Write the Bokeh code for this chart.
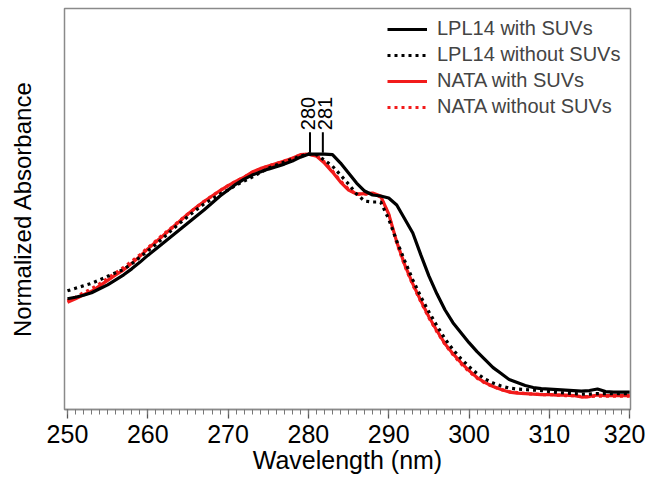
import math
from bokeh.plotting import figure
from bokeh.models import Range1d, FixedTicker, Legend, LegendItem, ColumnDataSource
from bokeh.core.properties import value
from bokeh.embed import file_html
from bokeh.resources import INLINE

wavelength = list(range(250, 321))

lpl14_with = [0.420, 0.426, 0.434, 0.444, 0.460, 0.476, 0.496, 0.516, 0.540, 0.566,
              0.594, 0.620, 0.646, 0.672, 0.698, 0.724, 0.750, 0.776, 0.804, 0.832,
              0.856, 0.880, 0.900, 0.916, 0.928, 0.940, 0.950, 0.960, 0.972, 0.988,
              1.000, 1.000, 1.000, 0.998, 0.964, 0.924, 0.884, 0.852, 0.836, 0.832,
              0.824, 0.796, 0.740, 0.684, 0.596, 0.512, 0.440, 0.376, 0.324, 0.284,
              0.244, 0.208, 0.176, 0.144, 0.120, 0.096, 0.084, 0.072, 0.064, 0.060,
              0.058, 0.056, 0.054, 0.052, 0.050, 0.052, 0.058, 0.048, 0.046, 0.046,
              0.046]

lpl14_without = [0.452, 0.462, 0.472, 0.482, 0.496, 0.510, 0.524, 0.538, 0.560, 0.586,
                 0.612, 0.638, 0.666, 0.696, 0.724, 0.750, 0.776, 0.800, 0.820, 0.840,
                 0.856, 0.876, 0.892, 0.908, 0.926, 0.944, 0.956, 0.968, 0.980, 0.992,
                 1.000, 0.998, 0.976, 0.952, 0.916, 0.880, 0.840, 0.812, 0.808, 0.808,
                 0.740, 0.652, 0.572, 0.496, 0.428, 0.368, 0.312, 0.260, 0.216, 0.180,
                 0.148, 0.120, 0.098, 0.082, 0.070, 0.062, 0.058, 0.056, 0.054, 0.052,
                 0.048, 0.044, 0.042, 0.040, 0.038, 0.038, 0.040, 0.040, 0.040, 0.040,
                 0.040]

nata_with = [0.406, 0.420, 0.436, 0.450, 0.472, 0.494, 0.516, 0.536, 0.562, 0.590,
             0.620, 0.648, 0.676, 0.704, 0.732, 0.760, 0.786, 0.810, 0.832, 0.854,
             0.874, 0.892, 0.908, 0.928, 0.942, 0.952, 0.962, 0.972, 0.984, 0.998,
             1.000, 0.992, 0.964, 0.928, 0.888, 0.856, 0.840, 0.842, 0.844, 0.832,
             0.760, 0.648, 0.556, 0.480, 0.412, 0.348, 0.292, 0.240, 0.200, 0.164,
             0.132, 0.104, 0.084, 0.068, 0.056, 0.046, 0.042, 0.040, 0.038, 0.036,
             0.036, 0.034, 0.034, 0.032, 0.026, 0.028, 0.034, 0.032, 0.032, 0.032,
             0.032]

nata_without = [0.412, 0.426, 0.444, 0.460, 0.480, 0.502, 0.524, 0.546, 0.570, 0.596,
                0.624, 0.652, 0.680, 0.706, 0.734, 0.760, 0.786, 0.810, 0.832, 0.854,
                0.874, 0.892, 0.908, 0.926, 0.940, 0.952, 0.962, 0.972, 0.984, 0.996,
                1.000, 0.994, 0.968, 0.932, 0.892, 0.860, 0.840, 0.840, 0.840, 0.828,
                0.756, 0.644, 0.552, 0.476, 0.408, 0.344, 0.288, 0.238, 0.196, 0.160,
                0.128, 0.102, 0.082, 0.068, 0.056, 0.048, 0.044, 0.040, 0.038, 0.036,
                0.036, 0.034, 0.032, 0.032, 0.028, 0.028, 0.030, 0.030, 0.030, 0.030,
                0.030]

peak_labels = ["280", "281"]
peak_x = [280.2, 281.8]
peak_text_x = [280.0, 282.1]
peak_line_bottom = 1.006
peak_line_top = 1.088
peak_text_y = 1.096

x_ticks = [250, 260, 270, 280, 290, 300, 310, 320]

FONT = "Liberation Sans"
RED = "#f21b1b"

p = figure(width=645, height=483, output_backend="svg", toolbar_location=None,
           x_range=Range1d(249.63, 320.11), y_range=Range1d(-0.024, 1.584),
           min_border_left=64, min_border_right=15, min_border_top=8, min_border_bottom=74)
p.background_fill_color = "white"
p.border_fill_color = "white"
p.xgrid.grid_line_color = None
p.ygrid.grid_line_color = None
p.outline_line_color = "#8a8a8a"
p.outline_line_width = 1.5

# x axis
p.xaxis.ticker = FixedTicker(ticks=x_ticks, minor_ticks=list(range(250, 321)))
p.xaxis.axis_label = "Wavelength (nm)"
p.xaxis.axis_label_text_font = FONT
p.xaxis.axis_label_text_font_size = "25px"
p.xaxis.axis_label_text_font_style = "normal"
p.xaxis.axis_label_text_color = "black"
p.xaxis.axis_label_standoff = 0
p.xaxis.major_label_text_font = FONT
p.xaxis.major_label_text_font_size = "25px"
p.xaxis.major_label_standoff = 6
p.xaxis.major_label_text_color = "black"
p.xaxis.axis_line_color = "#8a8a8a"
p.xaxis.axis_line_width = 1.5
p.xaxis.major_tick_in = 0
p.xaxis.major_tick_out = 9
p.xaxis.minor_tick_in = 0
p.xaxis.minor_tick_out = 5
p.xaxis.major_tick_line_color = "#555555"
p.xaxis.minor_tick_line_color = "#777777"
p.xaxis.major_tick_line_width = 1.3
p.xaxis.minor_tick_line_width = 1

# y axis (label only)
p.yaxis.ticker = FixedTicker(ticks=[])
p.yaxis.axis_label = "Normalized Absorbance"
p.yaxis.axis_label_text_font = FONT
p.yaxis.axis_label_text_font_size = "24px"
p.yaxis.axis_label_text_font_style = "normal"
p.yaxis.axis_label_text_color = "black"
p.yaxis.axis_label_standoff = 29
p.yaxis.axis_line_color = None
p.yaxis.major_tick_line_color = None
p.yaxis.minor_tick_line_color = None
p.yaxis.major_label_text_font_size = "0px"

src = ColumnDataSource(dict(x=wavelength, lw=lpl14_with, lwo=lpl14_without,
                            nw=nata_with, nwo=nata_without))

r_nw = p.line("x", "nw", source=src, line_color=RED, line_width=3.2)
r_nwo = p.line("x", "nwo", source=src, line_color=RED, line_width=3.2, line_dash="3 4")
r_lw = p.line("x", "lw", source=src, line_color="black", line_width=3.2)
r_lwo = p.line("x", "lwo", source=src, line_color="black", line_width=3.2, line_dash="3 4")

# peak markers
p.segment(x0=peak_x, y0=[peak_line_bottom] * 2, x1=peak_x, y1=[peak_line_top] * 2,
          line_color="black", line_width=2)
p.text(x=peak_text_x, y=[peak_text_y] * 2, text=peak_labels, angle=math.pi / 2,
       text_align="left", text_baseline="middle", text_font=value(FONT),
       text_font_size="20px", text_color="black")

legend = Legend(items=[
    LegendItem(label="LPL14 with SUVs", renderers=[r_lw]),
    LegendItem(label="LPL14 without SUVs", renderers=[r_lwo]),
    LegendItem(label="NATA with SUVs", renderers=[r_nw]),
    LegendItem(label="NATA without SUVs", renderers=[r_nwo]),
], location=(323, 291))
legend.label_text_font = FONT
legend.label_text_font_size = "20px"
legend.glyph_width = 40
legend.glyph_height = 22
legend.label_height = 22
legend.label_standoff = 10
legend.spacing = 3
legend.padding = 9
legend.margin = 0
legend.border_line_color = None
legend.background_fill_alpha = 0
p.add_layout(legend)

open("out.html", "w").write(file_html(p, INLINE))
